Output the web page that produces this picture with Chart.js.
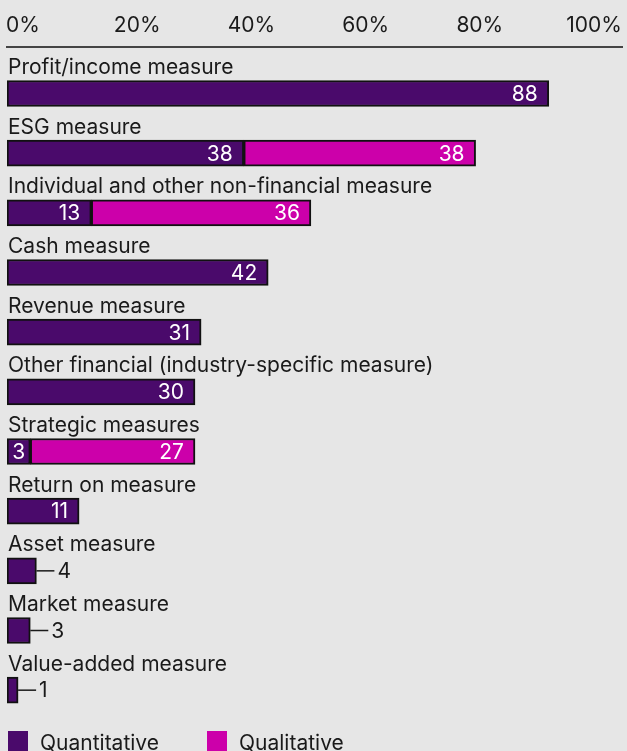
<!DOCTYPE html>
<html>
<head>
<meta charset="utf-8">
<script src="https://cdn.jsdelivr.net/npm/chart.js@4"></script>
<style>
  html, body { margin: 0; padding: 0; background: #e6e6e6; overflow: hidden; }
  #wrap { width: 627px; height: 751px; position: relative; }
</style>
</head>
<body>
<div id="wrap"><canvas id="chart"></canvas></div>
<script>
// Dati
const categories = [
  'Profit/income measure',
  'ESG measure',
  'Individual and other non-financial measure',
  'Cash measure',
  'Revenue measure',
  'Other financial (industry-specific measure)',
  'Strategic measures',
  'Return on measure',
  'Asset measure',
  'Market measure',
  'Value-added measure'
];
const quantitative = [88, 38, 13, 42, 31, 30, 3, 11, 4, 3, 1];
const qualitative = [0, 38, 36, 0, 0, 0, 27, 0, 0, 0, 0];
const tickValues = [0, 20, 40, 60, 80, 100];

const PURPLE = '#4a0a6b';
const MAGENTA = '#cc00aa';
const TEXT = '#1a1a1a';
const FONT = 'Inter, "Noto Sans", sans-serif';
const FONT_SIZE = 21;

// Etichette delle categorie, valori e legenda
const labelsPlugin = {
  id: 'labelsPlugin',
  afterDatasetsDraw(chart) {
    const ctx = chart.ctx;
    const yScale = chart.scales.y;
    ctx.save();
    ctx.font = FONT_SIZE + 'px ' + FONT;
    ctx.fillStyle = TEXT;
    ctx.textAlign = 'left';
    ctx.textBaseline = 'alphabetic';
    categories.forEach((c, i) => {
      ctx.fillText(c, 8, yScale.getPixelForValue(i) - 19.5);
    });

    chart.data.datasets.forEach((ds, di) => {
      const meta = chart.getDatasetMeta(di);
      meta.data.forEach((bar, i) => {
        const v = ds.data[i].x;
        if (!v) return;
        const txt = String(v);
        const tw = ctx.measureText(txt).width;
        const left = Math.min(bar.x, bar.base);
        const right = Math.max(bar.x, bar.base);
        const w = right - left;
        const hasNext = di === 0 && qualitative[i] > 0;
        ctx.textBaseline = 'middle';
        if (w >= tw + 22) {
          ctx.fillStyle = '#ffffff';
          ctx.textAlign = 'right';
          ctx.fillText(txt, right - 11, bar.y + 1);
        } else if (hasNext) {
          ctx.fillStyle = '#ffffff';
          ctx.textAlign = 'center';
          ctx.fillText(txt, (left + right) / 2, bar.y + 1);
        } else {
          ctx.strokeStyle = TEXT;
          ctx.lineWidth = 1.5;
          ctx.beginPath();
          ctx.moveTo(right, bar.y);
          ctx.lineTo(right + 18, bar.y);
          ctx.stroke();
          ctx.fillStyle = TEXT;
          ctx.textAlign = 'left';
          ctx.fillText(txt, right + 21, bar.y + 1);
        }
      });
    });

    // Legenda
    const items = [[8, 0], [207, 1]];
    items.forEach(([x, di]) => {
      const ds = chart.data.datasets[di];
      ctx.fillStyle = ds.backgroundColor;
      ctx.fillRect(x, 731, 20, 20);
      ctx.fillStyle = TEXT;
      ctx.textAlign = 'left';
      ctx.textBaseline = 'alphabetic';
      ctx.fillText(ds.label, x + 32, 750);
    });
    ctx.restore();
  }
};

const ctx = document.getElementById('chart').getContext('2d');
new Chart(ctx, {
  type: 'bar',
  data: {
    datasets: [
      {
        label: 'Quantitative',
        data: quantitative.map((v, i) => ({ x: v, y: i })),
        backgroundColor: PURPLE,
        borderColor: '#111',
        borderWidth: 2,
        borderSkipped: false,
        base: -0.82,
        barThickness: 26,
        xAxisID: 'x',
        yAxisID: 'y'
      },
      {
        label: 'Qualitative',
        data: qualitative.map((v, i) => ({ x: v, y: i })),
        backgroundColor: MAGENTA,
        borderColor: '#111',
        borderWidth: 2,
        borderSkipped: false,
        barThickness: 26,
        xAxisID: 'x',
        yAxisID: 'y'
      }
    ]
  },
  options: {
    indexAxis: 'y',
    responsive: true,
    maintainAspectRatio: false,
    animation: false,
    layout: { padding: { left: 7, right: 5, top: 0, bottom: 31 } },
    plugins: {
      legend: { display: false },
      tooltip: { enabled: false }
    },
    scales: {
      x: { type: 'linear', stacked: true, min: -0.82, max: 100, display: false },
      y: { type: 'linear', stacked: true, reverse: true, offset: false, min: -0.78, max: 10.5, display: false },
      pct: {
        type: 'linear',
        axis: 'x',
        position: 'top',
        min: -2.8,
        max: 104.9,
        afterBuildTicks: (s) => { s.ticks = tickValues.map(v => ({ value: v })); },
        afterFit: (s) => {
          s.height = 47;
          s.paddingLeft = 0;
          s.paddingRight = 0;
        },
        grid: { display: false, drawTicks: false },
        border: { display: true, color: '#444', width: 2 },
        ticks: {
          callback: (v) => v + '%',
          font: { family: FONT, size: FONT_SIZE },
          color: TEXT,
          padding: 9,
          maxRotation: 0,
          autoSkip: false
        }
      }
    }
  },
  plugins: [labelsPlugin]
});
</script>
</body>
</html>
